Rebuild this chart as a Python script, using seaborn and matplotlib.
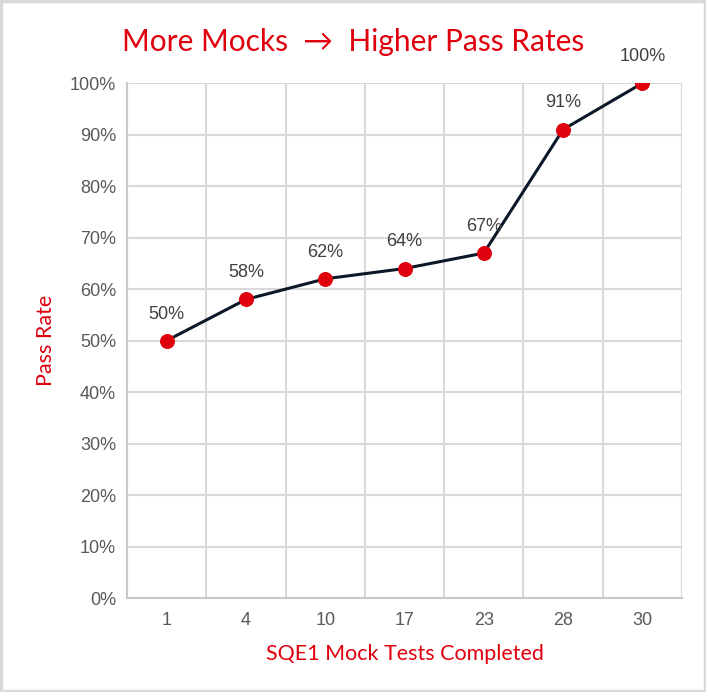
import matplotlib
matplotlib.use("Agg")
import matplotlib.pyplot as plt
import seaborn as sns
import pandas as pd
from matplotlib.ticker import FuncFormatter, MultipleLocator
from matplotlib.patches import Rectangle

mocks = ["1", "4", "10", "17", "23", "28", "30"]
pass_rate = [50, 58, 62, 64, 67, 91, 100]
point_labels = ["50%", "58%", "62%", "64%", "67%", "91%", "100%"]

title = "More Mocks  \u2192  Higher Pass Rates"
xlabel = "SQE1 Mock Tests Completed"
ylabel = "Pass Rate"

RED = "#E0000D"
NAVY = "#0B1828"
GRID = "#D9D9D9"
TICK = "#595959"

sns.set_theme(style="white")
plt.rcParams["font.family"] = ["Liberation Sans", "DejaVu Sans"]

df = pd.DataFrame({"mocks": mocks, "rate": pass_rate})
df["x"] = range(len(df))

fig = plt.figure(figsize=(7.06, 6.92), dpi=100)
ax = fig.add_axes([0.18, 0.1358, 0.786, 0.744])

sns.lineplot(data=df, x="x", y="rate", ax=ax, color=NAVY, linewidth=2.2,
             marker="o", markersize=10, markerfacecolor=RED,
             markeredgecolor=RED, zorder=3)

ax.set_xlim(-0.5, len(mocks) - 0.5)
ax.set_ylim(0, 100)
ax.set_xticks(range(len(mocks)))
ax.set_xticklabels(mocks)
ax.set_xticks([i - 0.5 for i in range(len(mocks) + 1)], minor=True)
ax.yaxis.set_major_locator(MultipleLocator(10))
ax.yaxis.set_major_formatter(FuncFormatter(lambda v, p: f"{v:.0f}%"))
ax.grid(False)
ax.grid(True, which="minor", axis="x", color=GRID, linewidth=1.5)
ax.grid(True, which="major", axis="y", color=GRID, linewidth=1.5)
ax.set_axisbelow(True)
ax.tick_params(axis="both", which="both", length=0, labelsize=13, labelcolor=TICK)
ax.tick_params(axis="x", pad=10)
ax.tick_params(axis="y", pad=8)
for s in ["top", "right"]:
    ax.spines[s].set_visible(False)
for s in ["left", "bottom"]:
    ax.spines[s].set_color("#C8C8C8")
    ax.spines[s].set_linewidth(1.5)

for xi, yi, lab in zip(df["x"], df["rate"], point_labels):
    ax.annotate(lab, (xi, yi), xytext=(0, 13), textcoords="offset points",
                ha="center", va="bottom", fontsize=13, color="#404040")

ax.set_xlabel(xlabel, color=RED, fontsize=15.5, family=["Lato", "DejaVu Sans"], labelpad=11)
ax.set_ylabel(ylabel, color=RED, fontsize=15.5, family=["Lato", "DejaVu Sans"], labelpad=10)
fig.text(0.5, 0.939, title, ha="center", va="center", color=RED,
         fontsize=21.5, family=["Lato", "DejaVu Sans"])

fig.patches.append(Rectangle((0.002, 0.002), 0.996, 0.996, transform=fig.transFigure,
                             fill=False, edgecolor="#D9D9D9", linewidth=2.5))

fig.savefig("out.png", dpi=100)
